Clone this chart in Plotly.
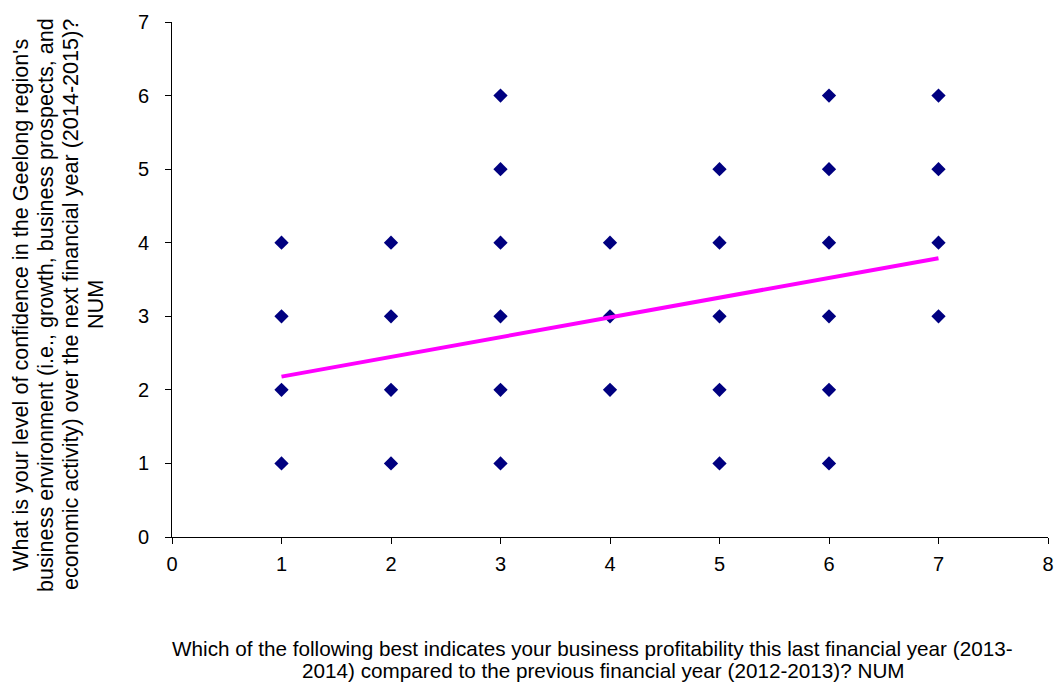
import plotly.graph_objects as go

# Data: (profitability response, confidence response)
x_vals = [1, 1, 1, 1,
          2, 2, 2, 2,
          3, 3, 3, 3, 3, 3,
          4, 4, 4,
          5, 5, 5, 5, 5,
          6, 6, 6, 6, 6, 6,
          7, 7, 7, 7]
y_vals = [1, 2, 3, 4,
          1, 2, 3, 4,
          1, 2, 3, 4, 5, 6,
          2, 3, 4,
          1, 2, 3, 4, 5,
          1, 2, 3, 4, 5, 6,
          3, 4, 5, 6]
trend_x = [1, 7]
trend_y = [2.18, 3.79]

x_ticks = [0, 1, 2, 3, 4, 5, 6, 7, 8]
y_ticks = [0, 1, 2, 3, 4, 5, 6, 7]

x_title_lines = ["Which of the following best indicates your business profitability this last financial year (2013-",
                 "2014) compared to the previous financial year (2012-2013)? NUM"]
y_title_lines = ["What is your level of confidence in the Geelong region's",
                 "business environment (i.e., growth, business prospects, and",
                 "economic activity) over the next financial year (2014-2015)?",
                 "NUM"]

FONT = "Liberation Sans, Arial, sans-serif"
L, R, T, B = 172, 8, 22, 145
W, H = 1056, 682
PW, PH = W - L - R, H - T - B

def px_x(p):
    return (p - L) / PW

def px_y(p):
    return (H - B - p) / PH

fig = go.Figure()
fig.add_trace(go.Scatter(x=x_vals, y=y_vals, mode="markers",
                         marker=dict(symbol="diamond", size=11, color="#000080"),
                         showlegend=False, hoverinfo="x+y"))
fig.add_trace(go.Scatter(x=trend_x, y=trend_y, mode="lines",
                         line=dict(color="#FF00FF", width=4),
                         showlegend=False, hoverinfo="skip"))

axis_common = dict(showgrid=False, zeroline=False, showline=True, linecolor="black",
                   linewidth=1, ticks="outside", ticklen=6, tickcolor="black", automargin=False,
                   tickfont=dict(family=FONT, size=20, color="black"))

annotations = []
x_centers = [592, 603]
x_ys = [648, 670]
for line, cx, cy in zip(x_title_lines, x_centers, x_ys):
    annotations.append(dict(text=line, xref="paper", yref="paper", x=px_x(cx), y=px_y(cy),
                            showarrow=False, xanchor="center", yanchor="middle",
                            font=dict(family=FONT, size=20.7, color="black")))
y_xs = [20, 45, 70, 95]
for line, cx in zip(y_title_lines, y_xs):
    annotations.append(dict(text=line, xref="paper", yref="paper", x=px_x(cx), y=px_y(305),
                            showarrow=False, xanchor="center", yanchor="middle", textangle=-90,
                            font=dict(family=FONT, size=21.6, color="black")))

fig.update_layout(
    width=W, height=H,
    margin=dict(l=L, r=R, t=T, b=B, autoexpand=False),
    plot_bgcolor="white", paper_bgcolor="white",
    font=dict(family=FONT, size=20, color="black"),
    xaxis=dict(range=[0, 8], tickvals=x_ticks, ticklabelstandoff=3, **axis_common),
    yaxis=dict(range=[0, 7], tickvals=y_ticks, ticklabelstandoff=12, **axis_common),
    xaxis2=dict(range=[0, 8], tickvals=x_ticks, overlaying="x", showgrid=False, zeroline=False,
                showline=False, ticks="inside", ticklen=5, tickcolor="black",
                showticklabels=False, anchor="y"),
    yaxis2=dict(range=[0, 7], tickvals=y_ticks, overlaying="y", showgrid=False, zeroline=False,
                showline=False, ticks="inside", ticklen=5, tickcolor="black",
                showticklabels=False, anchor="x"),
    annotations=annotations,
)
fig.write_html("out.html", config={"displayModeBar": False},
               post_script="document.body.style.margin='0';")
